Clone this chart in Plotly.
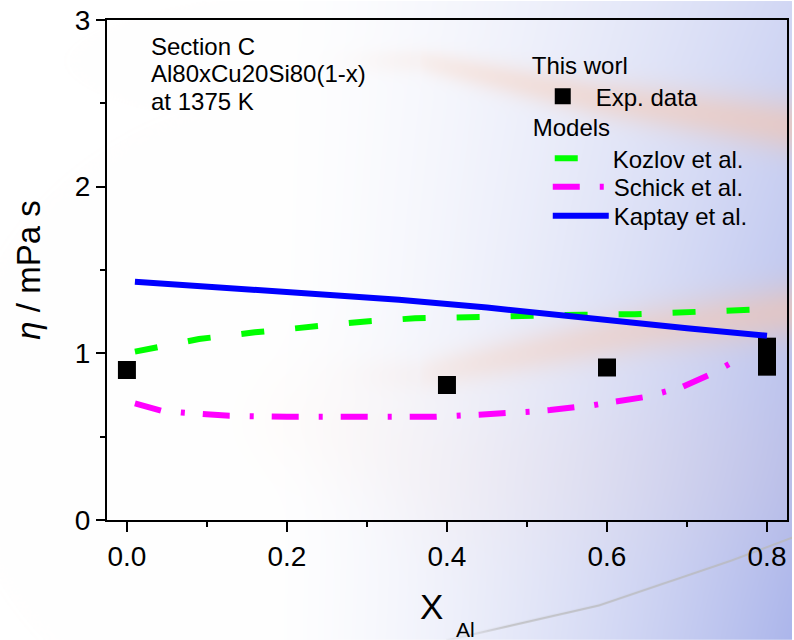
import numpy as np
import zlib, struct, base64
import plotly.graph_objects as go

# ---------------- data ----------------
exp_x = [0.0, 0.4, 0.6, 0.8, 0.8, 0.8]
exp_y = [0.90, 0.81, 0.915, 1.04, 0.98, 0.92]

kozlov_x = [0.01, 0.04, 0.09, 0.16, 0.225, 0.295, 0.36, 0.43, 0.5, 0.57, 0.635, 0.69, 0.745, 0.8]
kozlov_y = [1.01, 1.04, 1.086, 1.126, 1.16, 1.19, 1.21, 1.22, 1.222, 1.232, 1.235, 1.243, 1.255, 1.265]

schick_x = [0.01, 0.043, 0.068, 0.095, 0.128, 0.2, 0.3, 0.387, 0.44, 0.475, 0.504, 0.529,
            0.565, 0.584, 0.61, 0.645, 0.669, 0.695, 0.73, 0.755, 0.76]
schick_y = [0.70, 0.656, 0.645, 0.634, 0.625, 0.62, 0.62, 0.62, 0.632, 0.638, 0.65, 0.66,
            0.677, 0.69, 0.71, 0.736, 0.765, 0.80, 0.875, 0.94, 0.955]

kaptay_x = [0.01, 0.09, 0.175, 0.26, 0.34, 0.45, 0.59, 0.7, 0.8]
kaptay_y = [1.43, 1.405, 1.38, 1.352, 1.322, 1.275, 1.2, 1.15, 1.106]

x_ticks = [0.0, 0.2, 0.4, 0.6, 0.8]
x_ticklabels = ["0.0", "0.2", "0.4", "0.6", "0.8"]
y_ticks = [0, 1, 2, 3]
y_ticklabels = ["0", "1", "2", "3"]

annot_lines = ["Section C", "Al80xCu20Si80(1-x)", "at 1375 K"]
x_title_main, x_title_sub = "X", "Al"

# ---------------- geometry ----------------
W, H = 794, 640
L, R, T, B = 107, 789, 19, 520
PW, PH = R - L, B - T


def pxx(px):
    return (px - L) / PW


def pxy(py):
    return (B - py) / PH


# ---------------- background image (decorative) ----------------
def make_bg():
    yy, xx = np.mgrid[0:H, 0:W].astype(float)
    img = np.ones((H, W, 3)) * 255.0
    blue = np.array([172.0, 182.0, 235.0])
    a = np.clip((xx - 250) / 544.0, 0, 1) ** 1.6 * (0.55 + 0.45 * yy / H)
    img = img * (1 - a[..., None]) + blue * a[..., None]

    def streak(pts, s0, s1, a0, a1, color):
        px = np.array([p[0] for p in pts], float)
        py = np.array([p[1] for p in pts], float)
        xs = np.arange(W, dtype=float)
        cy = np.interp(xs, px, py)
        t = np.clip((xs - px[0]) / (px[-1] - px[0]), 0, 1)
        sig = s0 + (s1 - s0) * t
        amp = a0 + (a1 - a0) * np.sqrt(t)
        amp = np.where(xs < px[0], amp * np.exp(-((xs - px[0]) / 60.0) ** 2), amp)
        d = (yy - cy[None, :]) / sig[None, :]
        al = amp[None, :] * np.exp(-0.5 * d ** 2)
        col = np.array(color, float)
        return al, col

    for pts, s0, s1, a0, a1, c in [
        ([(420, 60), (600, 98), (794, 126)], 9, 19, 0.12, 0.55, (248, 196, 168)),
        ([(420, 374), (650, 328), (794, 310)], 12, 20, 0.08, 0.55, (248, 196, 168)),
        ([(300, 420), (380, 440), (440, 470)], 40, 60, 0.05, 0.08, (250, 205, 185)),
    ]:
        al, col = streak(pts, s0, s1, a0, a1, c)
        img = img * (1 - al[..., None]) + col * al[..., None]

    # thin gray curve at the bottom right
    gx = np.array([447, 600, 733, 794], float)
    gy = np.array([640, 605, 560, 537], float)
    xs = np.arange(W, dtype=float)
    cy = np.interp(xs, gx, gy)
    d = np.abs(yy - cy[None, :])
    al = np.clip(1.6 - d, 0, 1) * 0.75
    al = np.where(xx < 447, 0, al)
    fade = np.clip((xx - 447) / 60.0, 0.3, 1)
    al = al * fade
    gcol = np.array([185.0, 185.0, 185.0])
    img = img * (1 - al[..., None]) + gcol * al[..., None]

    arr = np.clip(img, 0, 255).astype(np.uint8)
    # PNG with Sub filter
    a16 = arr.reshape(H, W * 3).astype(np.int16)
    sub = a16.copy()
    sub[:, 3:] = (a16[:, 3:] - a16[:, :-3]) % 256
    raw = np.hstack([np.ones((H, 1), np.int16), sub]).astype(np.uint8).tobytes()

    def chunk(tag, data):
        c = struct.pack(">I", len(data)) + tag + data
        return c + struct.pack(">I", zlib.crc32(tag + data) & 0xFFFFFFFF)

    png = b"\x89PNG\r\n\x1a\n"
    png += chunk(b"IHDR", struct.pack(">IIBBBBB", W, H, 8, 2, 0, 0, 0))
    png += chunk(b"IDAT", zlib.compress(raw, 9))
    png += chunk(b"IEND", b"")
    return "data:image/png;base64," + base64.b64encode(png).decode()


FONT = "Liberation Sans, Arial, sans-serif"
LEG = 24

fig = go.Figure()

fig.add_trace(go.Scatter(
    x=exp_x, y=exp_y, mode="markers", name="Exp. data",
    marker=dict(symbol="square", size=18, color="black"), legend="legend",
))
fig.add_trace(go.Scatter(
    x=kozlov_x, y=kozlov_y, mode="lines", name="Kozlov et al.",
    line=dict(color="#00ff00", width=6, dash="23px,31px"), legend="legend2",
))
fig.add_trace(go.Scatter(
    x=schick_x, y=schick_y, mode="lines", name="Schick et al.",
    line=dict(color="#ff00ff", width=6, dash="27px,20px,4px,18px"), legend="legend3",
))
fig.add_trace(go.Scatter(
    x=kaptay_x, y=kaptay_y, mode="lines", name="Kaptay et al.",
    line=dict(color="#0000ff", width=6), legend="legend4",
))

for i, txt in enumerate(annot_lines):
    fig.add_annotation(
        x=pxx(149), y=pxy([45.5, 72.5, 101][i]), xref="paper", yref="paper",
        text=txt, showarrow=False, xanchor="left", yanchor="middle",
        font=dict(size=24, color="black", family=FONT),
    )

# x-axis title: main letter and lowered subscript
fig.add_annotation(
    x=pxx(419), y=pxy(607), xref="paper", yref="paper", text=x_title_main, showarrow=False,
    xanchor="left", yanchor="middle", font=dict(size=35, color="black", family=FONT),
)
fig.add_annotation(
    x=pxx(455), y=pxy(630), xref="paper", yref="paper", text=x_title_sub, showarrow=False,
    xanchor="left", yanchor="middle", font=dict(size=21, color="black", family=FONT),
)


def leg(xpx, ypx, indent, iw=56, title=None):
    d = dict(
        x=pxx(xpx), y=pxy(ypx), xanchor="left", yanchor="top",
        bgcolor="rgba(0,0,0,0)", font=dict(size=LEG, color="black", family=FONT),
        itemwidth=iw, indentation=indent,
    )
    if title:
        d["title"] = dict(text=title, font=dict(size=LEG, color="black", family=FONT))
    return d


xr = [-0.0249, 0.825]
yr = [0, 3]

fig.update_layout(
    width=W, height=H,
    margin=dict(l=L, r=W - R, t=T, b=H - B),
    paper_bgcolor="white", plot_bgcolor="rgba(0,0,0,0)",
    font=dict(family=FONT, color="black"),
    showlegend=True,
    legend=leg(531, 42, 0, 56, "This worl"),
    legend2=leg(532, 104, 19, 53, "Models"),
    legend3=leg(529, 164, 20),
    legend4=leg(529, 193, 20),
    xaxis=dict(
        range=xr, tickvals=x_ticks, ticktext=x_ticklabels, ticks="outside", ticklen=10, tickwidth=2,
        tickcolor="black", showline=True, linecolor="black", linewidth=2, mirror=True,
        showgrid=False, zeroline=False, tickfont=dict(size=28),
        minor=dict(dtick=0.1, tick0=0, ticks="outside", ticklen=5, tickwidth=2, tickcolor="black"),
    ),
    yaxis=dict(
        range=yr, tickvals=y_ticks, ticktext=y_ticklabels, ticks="outside", ticklen=9, tickwidth=2,
        tickcolor="black", showline=True, linecolor="black", linewidth=2, mirror=True,
        showgrid=False, zeroline=False, tickfont=dict(size=28),
        minor=dict(dtick=0.5, tick0=0, ticks="outside", ticklen=5, tickwidth=2, tickcolor="black"),
        title=dict(text="<i>η</i> / mPa s", font=dict(size=33), standoff=24),
    ),
    images=[dict(
        source=make_bg(), xref="paper", yref="paper",
        x=-L / PW, y=1 + T / PH, sizex=W / PW, sizey=H / PH,
        xanchor="left", yanchor="top", sizing="stretch", layer="below",
    )],
)

fig.write_html("out.html")
